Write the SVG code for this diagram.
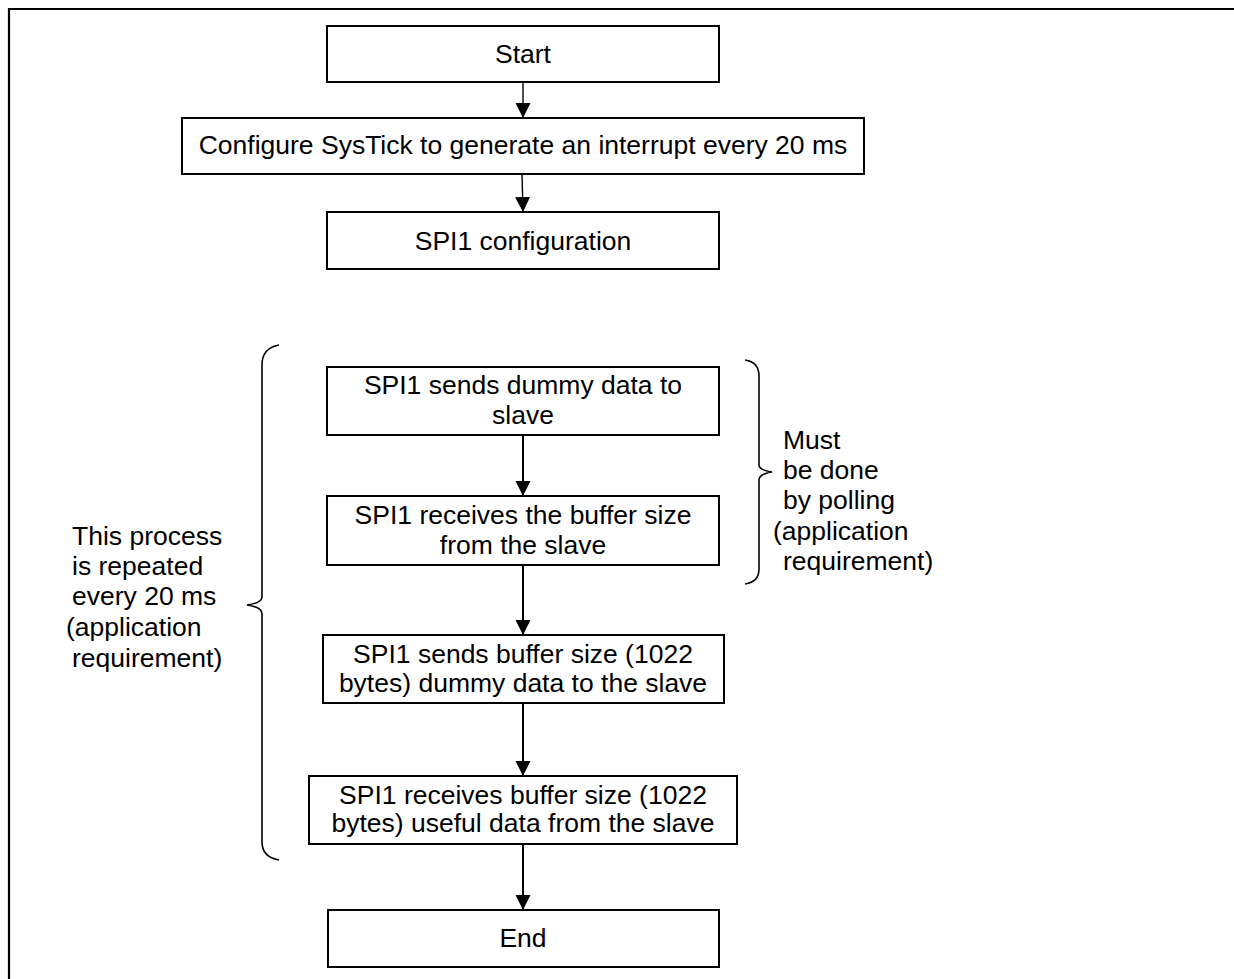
<svg xmlns="http://www.w3.org/2000/svg" width="1234" height="979" viewBox="0 0 1234 979">
<style>
.box{fill:#fff;stroke:#000;stroke-width:2}
.t{font-family:"Liberation Sans",Arial,sans-serif;font-size:26.5px;fill:#000}
.c{text-anchor:middle}
.conn{fill:none;stroke:#000;stroke-width:2}
.thin{fill:none;stroke:#000;stroke-width:1.4}
.brace{fill:none;stroke:#000;stroke-width:1.6}
</style>
<defs>
<marker id="ah" markerUnits="userSpaceOnUse" markerWidth="15" markerHeight="16" refX="15" refY="8" orient="auto" viewBox="0 0 15 16">
<path d="M0,0.5 L15,8 L0,15.5 z" fill="#000"/>
</marker>
</defs>
<rect width="1234" height="979" fill="#fff"/>
<g id="frame">
<path d="M1234,9 L9,9 L9,979" fill="none" stroke="#000" stroke-width="2.2"/>
</g>
<g id="connectors">
<path class="thin" d="M523,82 L523,118" marker-end="url(#ah)"/>
<path class="thin" d="M522,174 L523,212" marker-end="url(#ah)"/>
<path class="conn" d="M523,435 L523,496" marker-end="url(#ah)"/>
<path class="conn" d="M523,565 L523,635" marker-end="url(#ah)"/>
<path class="conn" d="M523,703 L523,776" marker-end="url(#ah)"/>
<path class="conn" d="M523,844 L523,910" marker-end="url(#ah)"/>
</g>
<g id="start">
<rect class="box" x="327" y="26" width="392" height="56"/>
<text class="t c" x="523" y="63">Start</text>
</g>
<g id="configure-systick">
<rect class="box" x="182" y="118" width="682" height="56"/>
<text class="t c" x="523" y="154">Configure SysTick to generate an interrupt every 20 ms</text>
</g>
<g id="spi1-configuration">
<rect class="box" x="327" y="212" width="392" height="57"/>
<text class="t c" x="523" y="250">SPI1 configuration</text>
</g>
<g id="send-dummy">
<rect class="box" x="327" y="367" width="392" height="68"/>
<text class="t c" x="523" y="394">SPI1 sends dummy data to</text>
<text class="t c" x="523" y="424">slave</text>
</g>
<g id="receive-size">
<rect class="box" x="327" y="496" width="392" height="69"/>
<text class="t c" x="523" y="524">SPI1 receives the buffer size</text>
<text class="t c" x="523" y="554">from the slave</text>
</g>
<g id="send-buffer">
<rect class="box" x="323" y="635" width="401" height="68"/>
<text class="t c" x="523" y="663">SPI1 sends buffer size (1022</text>
<text class="t c" x="523" y="692">bytes) dummy data to the slave</text>
</g>
<g id="receive-buffer">
<rect class="box" x="309" y="776" width="428" height="68"/>
<text class="t c" x="523" y="804">SPI1 receives buffer size (1022</text>
<text class="t c" x="523" y="832">bytes) useful data from the slave</text>
</g>
<g id="end">
<rect class="box" x="328" y="910" width="391" height="57"/>
<text class="t c" x="523" y="947">End</text>
</g>
<g id="repeat-note">
<path class="brace" d="M279,345 Q262,348 262,365 L262,597 Q262,603 247,605 Q262,607 262,614 L262,842 Q262,857 279,860"/>
<text class="t"><tspan x="72" y="545">This process</tspan><tspan x="72" y="575">is repeated</tspan><tspan x="72" y="605">every 20 ms</tspan><tspan x="66" y="636">(application</tspan><tspan x="72" y="667">requirement)</tspan></text>
</g>
<g id="polling-note">
<path class="brace" d="M745,360 Q759,362 759,376 L759,465 Q759,470 772,472 Q759,474 759,480 L759,569 Q759,582 745,584"/>
<text class="t"><tspan x="783" y="449">Must</tspan><tspan x="783" y="479">be done</tspan><tspan x="783" y="509">by polling</tspan><tspan x="773" y="540">(application</tspan><tspan x="783" y="570">requirement)</tspan></text>
</g>
</svg>
